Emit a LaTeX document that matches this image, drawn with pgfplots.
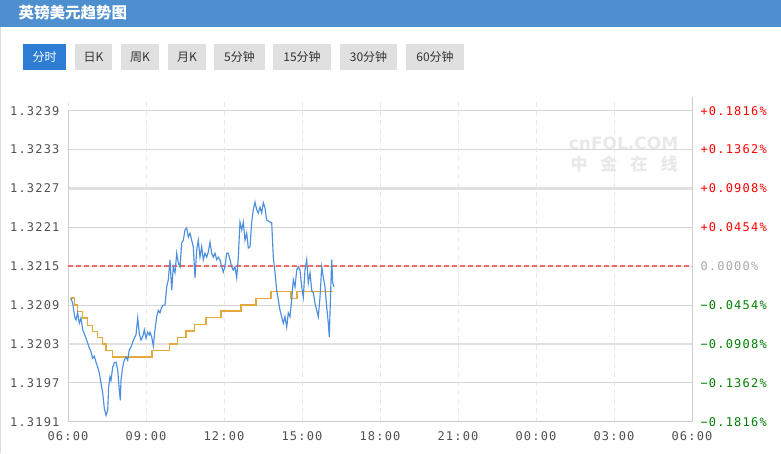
\documentclass[border=0pt]{standalone}
\usepackage{pgfplots}
\pgfplotsset{compat=1.18}
\usepackage{fontspec}
\setmainfont{DejaVu Sans}
\newfontfamily\cjk{Noto Sans CJK SC}
\newfontfamily\tickfont[LetterSpace=10]{DejaVu Sans Mono}

\definecolor{hdr}{HTML}{4E8FD0}
\definecolor{tabsel}{HTML}{2D7DD5}
\definecolor{tabbg}{HTML}{E0E0E0}
\definecolor{tabtxt}{HTML}{333333}
\definecolor{pline}{HTML}{4C90DD}
\definecolor{avgline}{HTML}{E3A83E}
\definecolor{gridc}{HTML}{D6D6D6}
\definecolor{thickc}{HTML}{E0E0E0}
\definecolor{vgridc}{HTML}{E8E8E8}
\definecolor{axc}{HTML}{CCCCCC}
\definecolor{zeroc}{HTML}{F26A6A}
\definecolor{labc}{HTML}{505050}
\definecolor{upc}{HTML}{FF0000}
\definecolor{dnc}{HTML}{008000}
\definecolor{zc}{HTML}{AAAAAA}
\definecolor{wm}{HTML}{E9E9E9}

\begin{document}
\begin{tikzpicture}
\begin{scope}[x=1pt,y=1pt]
% page and header
\fill[white] (0,0) rectangle (781,453);
\fill[hdr] (0,426.3) rectangle (781,453);
\draw[axc!70] (0.5,0) -- (0.5,426.3);
\node[anchor=west, text=white, font=\cjk\bfseries\fontsize{15.5}{15.5}\selectfont] at (15,440) {英镑美元趋势图};

% tabs
\fill[tabsel] (23,383) rectangle (66,409);
\node[text=white, font=\cjk\fontsize{12}{12}\selectfont] at (44.5,396) {分时};
\foreach \xa/\xb/\lbl in {75/112/日K,121/159/周K,168/206/月K,214/265/5分钟,273/331/15分钟,340/397/30分钟,406/464/60分钟}{
  \fill[tabbg] (\xa,383) rectangle (\xb,409);
  \node[text=tabtxt, font=\cjk\fontsize{12}{12}\selectfont] at ({(\xa+\xb)/2},396) {\lbl};
}

% watermark
\node[text=wm, font=\bfseries\fontsize{17}{17}\selectfont] at (623.5,309.5) {cnFOL.COM};
\node[text=wm, font=\cjk\bfseries\fontsize{17}{17}\selectfont] at (624,289.5) {中\hspace{13pt}金\hspace{13pt}在\hspace{13pt}线};
\end{scope}

\begin{axis}[
  at={(68pt,31.3pt)}, anchor=south west,
  scale only axis, width=624pt, height=311pt,
  xmin=0, xmax=24, ymin=1.3191, ymax=1.3239,
  axis line style={draw=none},
  major tick length=0pt,
  xtick={0,3,6,9,12,15,18,21,24},
  xticklabels={06:00,09:00,12:00,15:00,18:00,21:00,00:00,03:00,06:00},
  ytick={1.3191,1.3197,1.3203,1.3209,1.3215,1.3221,1.3227,1.3233,1.3239},
  yticklabels={1.3191,1.3197,1.3203,1.3209,1.3215,1.3221,1.3227,1.3233,1.3239},
  ymajorgrids, grid style={color=gridc, line width=1pt},
  tick label style={font=\tickfont\fontsize{12}{14}\selectfont, text=labc},
  xticklabel style={yshift=-6pt},
  yticklabel style={xshift=-5pt},
  clip=false,
]
\pgfplotsinvokeforeach{0,3,6,9,12,15,18,21}{
  \draw[vgridc, line width=1pt, dash pattern=on 5pt off 4pt] (axis cs:#1,1.3191) -- ([yshift=14pt]axis cs:#1,1.3239);
}
\draw[thickc, line width=2.6pt] (axis cs:0,1.3227) -- (axis cs:24,1.3227);
\draw[thickc, line width=2.6pt] (axis cs:0,1.3203) -- (axis cs:24,1.3203);
\draw[axc, line width=1pt] (axis cs:0,1.3191) -- (axis cs:0,1.3239);
\draw[axc, line width=1pt] (axis cs:24,1.3191) -- ([yshift=14pt]axis cs:24,1.3239);
\draw[axc, line width=1pt] (axis cs:0,1.3191) -- (axis cs:24,1.3191);
\draw[zeroc, line width=1.5pt, dash pattern=on 5pt off 3pt] (axis cs:0,1.3215) -- (axis cs:24,1.3215);

% average price
\addplot[const plot, avgline, line width=1.2pt, no markers] coordinates {
(0.104,1.32101)(0.242,1.32090)(0.373,1.32080)(0.565,1.32070)(0.758,1.32059)
(0.950,1.32049)(1.142,1.32040)(1.335,1.32030)(1.462,1.32020)(1.719,1.32010)
(3.231,1.32020)(3.896,1.32030)(4.219,1.32040)(4.538,1.32050)(4.858,1.32060)
(5.308,1.32071)(5.885,1.32081)(6.654,1.32090)(7.231,1.32100)(7.808,1.32111)
(8.577,1.32100)(8.808,1.32111)(10.192,1.32111)
};

% minute price
\addplot[pline, line width=1.15pt, no markers] coordinates {
(0.104,1.32101)(0.181,1.32093)(0.231,1.32079)(0.269,1.32070)(0.308,1.32067)
(0.373,1.32078)(0.435,1.32062)(0.500,1.32070)(0.565,1.32052)(0.615,1.32047)
(0.692,1.32039)(0.758,1.32031)(0.808,1.32025)(0.885,1.32018)(0.950,1.32008)
(1.012,1.32011)(1.077,1.32002)(1.142,1.31994)(1.204,1.31985)(1.269,1.31970)
(1.335,1.31954)(1.396,1.31931)(1.462,1.31920)(1.527,1.31928)(1.565,1.31964)
(1.615,1.31979)(1.654,1.31974)(1.719,1.31994)(1.781,1.32001)(1.846,1.32002)
(1.912,1.31990)(1.973,1.31959)(2.012,1.31943)(2.038,1.31974)(2.104,1.31994)
(2.165,1.32005)(2.231,1.32010)(2.296,1.32005)(2.358,1.32021)(2.423,1.32025)
(2.488,1.32033)(2.550,1.32039)(2.615,1.32044)(2.681,1.32070)(2.742,1.32046)
(2.808,1.32036)(2.873,1.32041)(2.935,1.32052)(3.000,1.32039)(3.065,1.32048)
(3.127,1.32044)(3.154,1.32048)(3.219,1.32041)(3.281,1.32027)(3.346,1.32052)
(3.412,1.32072)(3.473,1.32082)(3.538,1.32078)(3.604,1.32087)(3.665,1.32090)
(3.731,1.32090)(3.796,1.32118)(3.858,1.32129)(3.923,1.32160)(3.988,1.32113)
(4.050,1.32149)(4.115,1.32140)(4.181,1.32170)(4.242,1.32155)(4.308,1.32149)
(4.373,1.32186)(4.435,1.32190)(4.500,1.32206)(4.565,1.32209)(4.627,1.32195)
(4.692,1.32201)(4.758,1.32190)(4.819,1.32180)(4.885,1.32132)(4.950,1.32175)
(5.012,1.32190)(5.077,1.32164)(5.142,1.32180)(5.204,1.32160)(5.269,1.32170)
(5.335,1.32164)(5.396,1.32172)(5.462,1.32187)(5.527,1.32170)(5.588,1.32164)
(5.654,1.32170)(5.719,1.32160)(5.781,1.32164)(5.846,1.32160)(5.912,1.32149)
(5.973,1.32141)(6.038,1.32149)(6.104,1.32170)(6.165,1.32170)(6.231,1.32160)
(6.296,1.32149)(6.358,1.32144)(6.423,1.32149)(6.488,1.32132)(6.550,1.32164)
(6.615,1.32218)(6.681,1.32206)(6.742,1.32218)(6.808,1.32190)(6.873,1.32201)
(6.935,1.32178)(7.000,1.32180)(7.065,1.32218)(7.127,1.32237)(7.192,1.32249)
(7.258,1.32237)(7.319,1.32232)(7.385,1.32241)(7.450,1.32232)(7.512,1.32248)
(7.577,1.32240)(7.642,1.32221)(7.704,1.32220)(7.769,1.32218)(7.835,1.32217)
(7.896,1.32164)(7.962,1.32140)(8.027,1.32113)(8.088,1.32098)(8.154,1.32082)
(8.219,1.32072)(8.281,1.32062)(8.346,1.32072)(8.412,1.32056)(8.473,1.32078)
(8.538,1.32072)(8.604,1.32098)(8.665,1.32129)(8.731,1.32118)(8.796,1.32144)
(8.858,1.32149)(8.923,1.32144)(8.988,1.32118)(9.050,1.32102)(9.115,1.32144)
(9.181,1.32160)(9.242,1.32124)(9.308,1.32140)(9.373,1.32113)(9.435,1.32109)
(9.500,1.32093)(9.565,1.32082)(9.627,1.32072)(9.692,1.32102)(9.758,1.32149)
(9.819,1.32133)(9.885,1.32118)(9.950,1.32087)(10.012,1.32062)(10.050,1.32041)
(10.104,1.32113)(10.142,1.32160)(10.181,1.32124)(10.231,1.32118)
};
\end{axis}

% right-hand percentage scale
\begin{axis}[
  at={(68pt,31.3pt)}, anchor=south west,
  scale only axis, width=624pt, height=311pt,
  xmin=0, xmax=24, ymin=-0.1816, ymax=0.1816,
  hide x axis, axis y line*=right, axis line style={draw=none},
  major tick length=0pt,
  ytick={-0.1816,-0.1362,-0.0908,-0.0454,0,0.0454,0.0908,0.1362,0.1816},
  yticklabels={{\color{dnc}−0.1816\%},{\color{dnc}−0.1362\%},{\color{dnc}−0.0908\%},{\color{dnc}−0.0454\%},{\color{zc}0.0000\%},{\color{upc}+0.0454\%},{\color{upc}+0.0908\%},{\color{upc}+0.1362\%},{\color{upc}+0.1816\%}},
  yticklabel style={font=\tickfont\fontsize{12}{14}\selectfont, anchor=west, xshift=5pt},
]
\addplot[draw=none] coordinates {(0,0)};
\end{axis}
\end{tikzpicture}
\end{document}
